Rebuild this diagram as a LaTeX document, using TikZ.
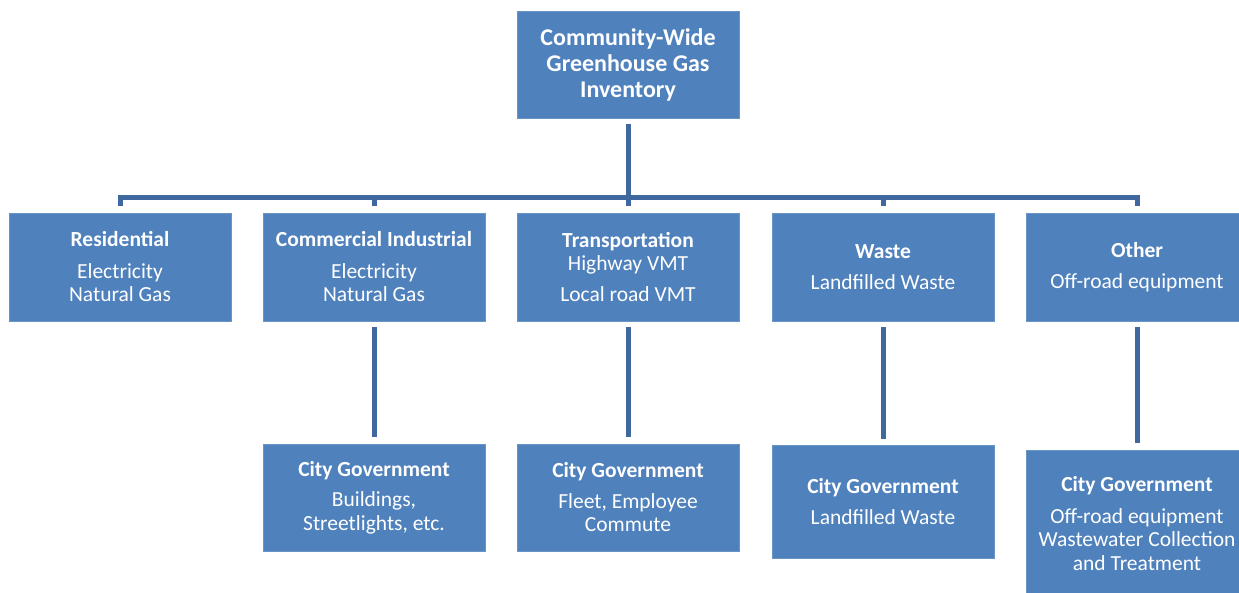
\documentclass[tikz,border=0pt]{standalone}
\usepackage{fontspec}
\setmainfont{Carlito}
\definecolor{boxblue}{RGB}{79,129,189}
\definecolor{lineblue}{RGB}{63,104,158}
\begin{document}
\begin{tikzpicture}[x=1pt,y=-1pt,
  box/.style={fill=boxblue, draw=boxblue!85!white, line width=0.6pt, text=white, inner sep=0pt, outer sep=0pt,
    minimum width=222pt, align=center, font=\fontsize{21.5}{23.5}\selectfont},
  conn/.style={draw=lineblue, line width=5pt, line join=miter}]
\clip (0,0) rectangle (1239,592);
\fill[white] (0,0) rectangle (1239,592);
% top
\node[box, minimum height=107pt, font=\bfseries\fontsize{24}{26}\selectfont] (top) at (628,64.5)
  {Community-Wide\\Greenhouse Gas\\Inventory};
% row 1
\node[box, minimum height=108pt] (res) at (120,267) {\textbf{Residential}\\[8pt]Electricity\\Natural Gas};
\node[box, minimum height=108pt] (com) at (374,267) {\textbf{Commercial Industrial}\\[8pt]Electricity\\Natural Gas};
\node[box, minimum height=108pt] (tra) at (628,267) {\textbf{Transportation}\\Highway VMT\\[7pt]Local road VMT};
\node[box, minimum height=108pt] (was) at (883,267) {\textbf{Waste}\\[7pt]Landfilled Waste};
\node[box, minimum height=108pt] (oth) at (1137,267) {\textbf{Other}\\[7pt]Off-road equipment};
% row 2
\node[box, minimum height=107pt] (cg2) at (374,497.5) {\textbf{City Government}\\[7pt]Buildings,\\Streetlights, etc.};
\node[box, minimum height=107pt] (cg3) at (628,497.5) {\textbf{City Government}\\[7pt]Fleet, Employee\\Commute};
\node[box, minimum height=113pt] (cg4) at (883,501.5) {\textbf{City Government}\\[7pt]Landfilled Waste};
\node[box, minimum height=147pt] (cg5) at (1137,523.5) {\textbf{City Government}\\[8pt]Off-road equipment\\Wastewater Collection\\and Treatment};
% bus
\coordinate (busL) at (120,197);
\coordinate (busR) at (1137,197);
\draw[conn] ([yshift=-6pt]top.south) -- ([yshift=7pt]tra.north);
\draw[conn] ([yshift=7pt]res.north) -- (busL) -- (busR) -- ([yshift=7pt]oth.north);
\draw[conn] (374,197) -- ([yshift=7pt]com.north);
\draw[conn] (883,197) -- ([yshift=7pt]was.north);
% row1 to row2
\draw[conn] ([yshift=-6pt]com.south) -- ([yshift=7pt]cg2.north);
\draw[conn] ([yshift=-6pt]tra.south) -- ([yshift=7pt]cg3.north);
\draw[conn] ([yshift=-6pt]was.south) -- ([yshift=6pt]cg4.north);
\draw[conn] ([yshift=-6pt]oth.south) -- ([yshift=7pt]cg5.north);
\end{tikzpicture}
\end{document}
